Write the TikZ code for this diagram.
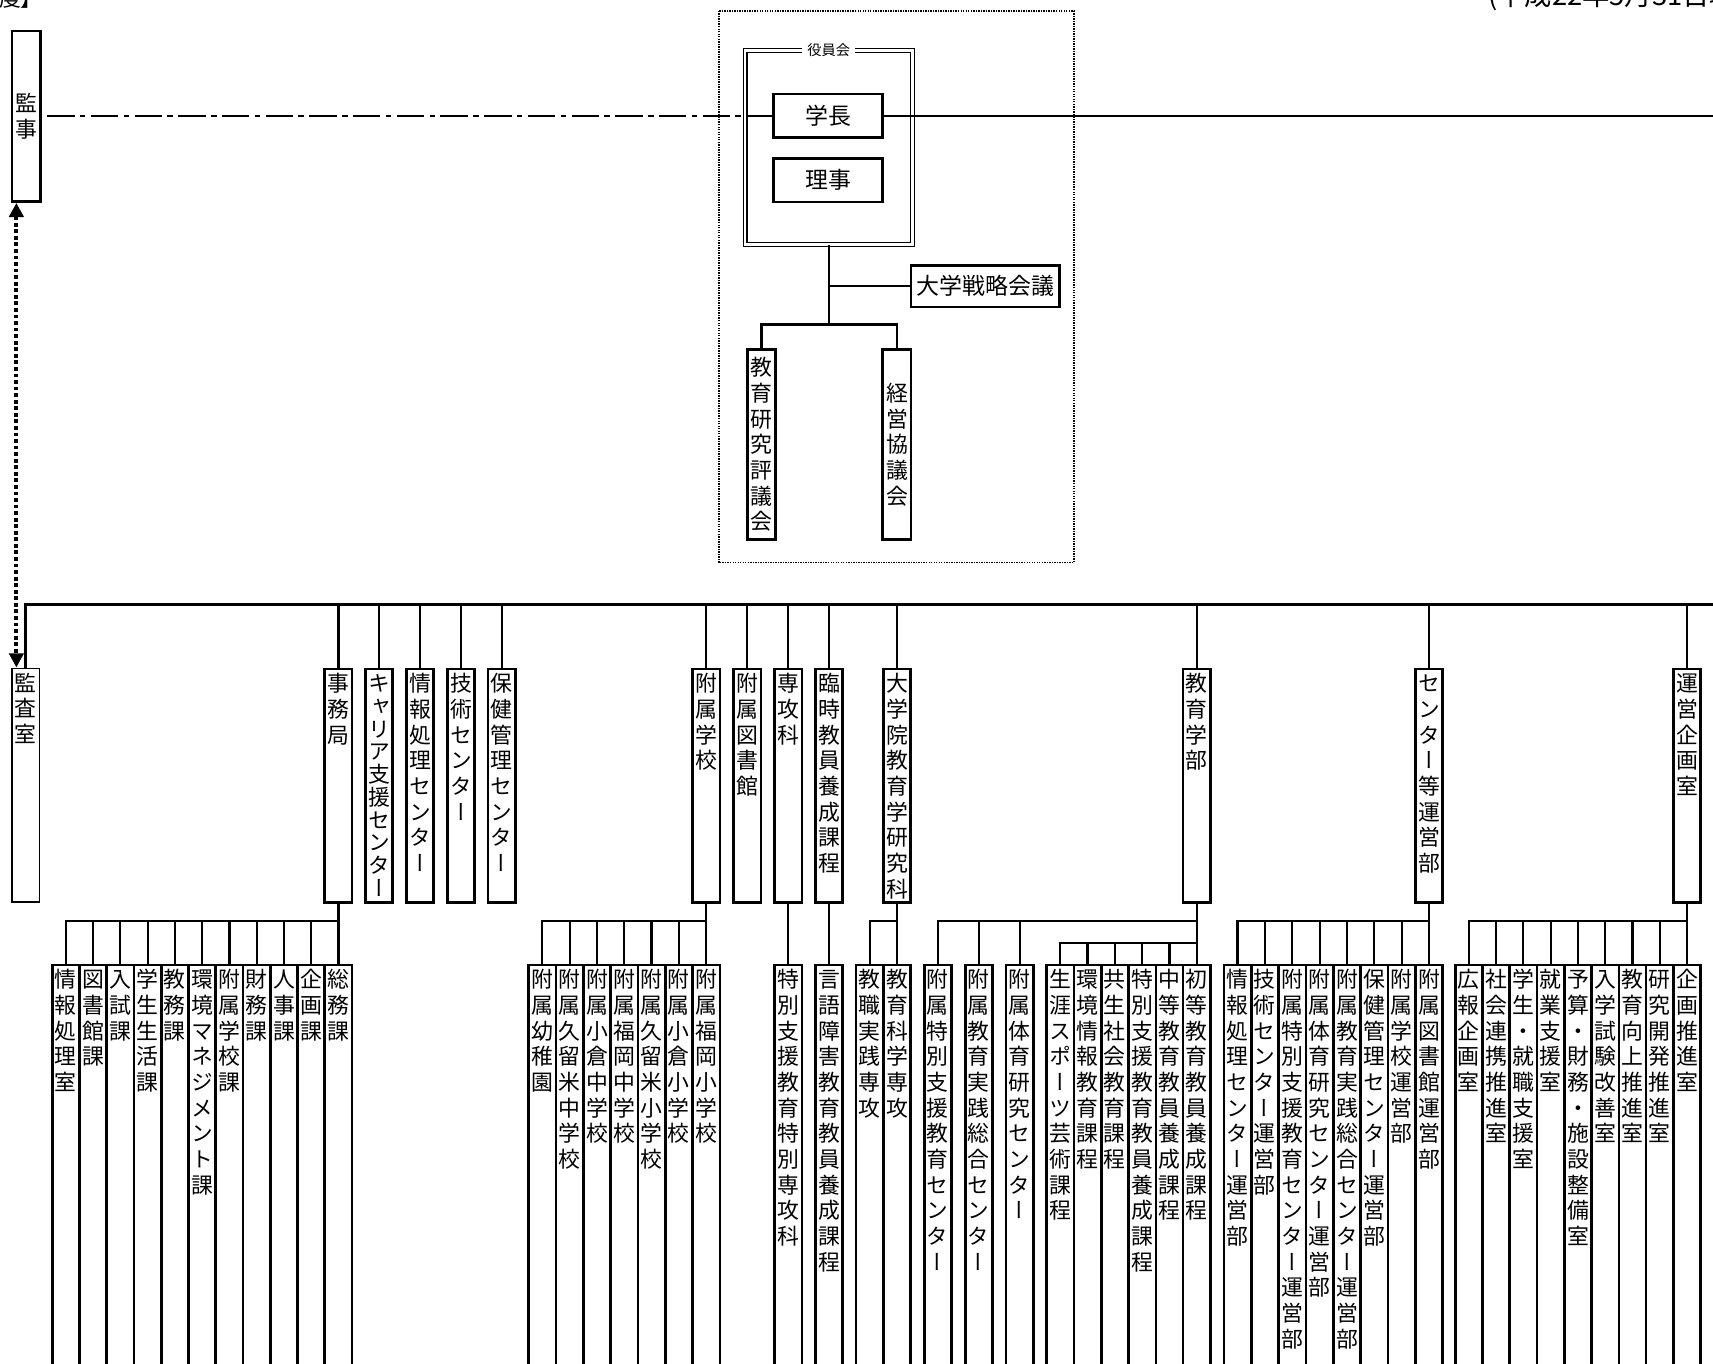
\documentclass[tikz,border=0pt]{standalone}
\usepackage{fontspec}
\newfontfamily\jp{Noto Sans CJK JP}
\newfontfamily\jptate[RawFeature=+vert]{Noto Sans CJK JP}
\usetikzlibrary{arrows.meta}

% one character per line, for the upright columns
\ExplSyntaxOn
\NewDocumentCommand \tate { m }
  {
    \seq_clear:N \l_tmpa_seq
    \tl_map_inline:nn {#1} { \seq_put_right:Nn \l_tmpa_seq {##1} }
    \parbox[t]{1em}{\centering \seq_use:Nn \l_tmpa_seq {\\} }
  }
\ExplSyntaxOff

\newcommand\tatefont{\jptate\fontsize{20pt}{23.5pt}\selectfont}
\newcommand\yokofont{\jp\fontsize{21pt}{25pt}\selectfont}

\tikzset{
  conn/.style={line width=2pt},
  busline/.style={line width=2.6pt},
  unitbox/.style={draw, line width=2.4pt, inner sep=0pt, minimum width=25pt,
    anchor=north, font=\tatefont, text height=21pt, text depth=193pt},
  subbox/.style={unitbox, text depth=397pt},
  namebox/.style={draw, line width=2.4pt, inner sep=0pt, font=\yokofont},
  tatebox/.style={draw, line width=2.4pt, inner sep=0pt, minimum width=26pt, font=\tatefont},
  kansaline/.style={line width=2pt, dash pattern=on 25pt off 5pt on 5pt off 5pt},
  dotarrow/.style={line width=3.5pt, dash pattern=on 3.5pt off 2.5pt,
    {Triangle[width=13pt,length=13pt]}-{Triangle[width=13pt,length=13pt]}}
}

\begin{document}
\begin{tikzpicture}[x=1pt,y=-1pt]
\useasboundingbox (0,0) rectangle (1568,1248.5);

% header (cut off at the top)
\node[anchor=base west, inner sep=0pt, font=\jp\fontsize{20pt}{24pt}\selectfont] (nendo) at (-1,6) {度】};
\node[anchor=base west, inner sep=0pt, font=\jp\fontsize{25pt}{30pt}\selectfont] (date) at (1362,5) {(平成22年5月31日現在)};

% top: auditors, board
\node[tatebox, minimum height=156pt] (kanji) at (24,106.5) {\tate{監事}};

\draw[line width=1.3pt, densely dotted] (658,10) rectangle (983,515);
\node[draw, double, double distance=2.4pt, line width=1.1pt, inner sep=0pt,
  minimum width=153pt, minimum height=178pt] (yakuin) at (758.5,135) {};
\node[fill=white, inner xsep=5pt, inner ysep=2pt, font=\jp\fontsize{13pt}{15pt}\selectfont] (yakuinlabel) at (yakuin.north) {役員会};

\node[namebox, minimum width=100pt, minimum height=40pt] (gakucho) at (758,106) {学長};
\node[namebox, minimum width=100pt, minimum height=40pt] (riji) at (758,165) {理事};
\node[namebox, minimum width=136pt, minimum height=38pt] (senryaku) at (902,262) {大学戦略会議};
\node[tatebox, minimum height=174pt] (hyogi) at (697,407) {\tate{教育研究評議会}};
\node[tatebox, minimum height=174pt] (keiei) at (821,407) {\tate{経営協議会}};

\coordinate (kbus) at (758.5,297);
\coordinate (topend) at (1580,106);
\coordinate (busend) at (1580,553);
\coordinate (lowbus) at (0,843);
\coordinate (lowbus2) at (0,863.5);

\draw[conn] (yakuin.south) -- (kbus);
\draw[conn] (yakuin.south |- senryaku.west) -- (senryaku.west);
\draw[conn] (hyogi.north) |- (kbus) -| (keiei.north);
\draw[conn] (gakucho.east) -- (topend);
\draw[kansaline] ([xshift=5pt]kanji.east |- gakucho.west) -- (gakucho.west);

% 2nd level
\node[unitbox, line width=1.2pt] (kansa) at (23.5,611) {\tate{監査室}};
\node[unitbox] (jimu) at (309.8,611) {\tate{事務局}};
\node[unitbox, font=\jptate\fontsize{20pt}{20.8pt}\selectfont] (career) at (347,611) {\tate{キャリア支援センター}};
\node[unitbox] (joho) at (384.5,611) {\tate{情報処理センター}};
\node[unitbox] (gijutsu) at (422,611) {\tate{技術センター}};
\node[unitbox] (hoken) at (459.3,611) {\tate{保健管理センター}};
\node[unitbox] (fuzoku) at (646.4,611) {\tate{附属学校}};
\node[unitbox] (tosho) at (684,611) {\tate{附属図書館}};
\node[unitbox] (senkou) at (721.5,611) {\tate{専攻科}};
\node[unitbox] (rinji) at (758.8,611) {\tate{臨時教員養成課程}};
\node[unitbox] (gakuin) at (821,611) {\tate{大学院教育学研究科}};
\node[unitbox] (gakubu) at (1095.5,611) {\tate{教育学部}};
\node[unitbox] (unei) at (1308,611) {\tate{センター等運営部}};
\node[unitbox] (kikaku) at (1544.3,611) {\tate{運営企画室}};

\draw[dotarrow] ([xshift=-9pt]kanji.south) -- ([xshift=-8.5pt]kansa.north);
\draw[busline] (kansa.north) -- (kansa.north |- busend) -- (busend);
\foreach \n in {jimu,career,joho,gijutsu,hoken,fuzoku,tosho,senkou,rinji,gakuin,gakubu,unei,kikaku}
  \draw[conn] (\n.north) -- (\n.north |- busend);

% 3rd level: jimukyoku
\node[subbox] (ka1) at (60.3,882) {\tate{情報処理室}};
\node[subbox] (ka2) at (85.25,882) {\tate{図書館課}};
\node[subbox] (ka3) at (110.2,882) {\tate{入試課}};
\node[subbox] (ka4) at (135.15,882) {\tate{学生生活課}};
\node[subbox] (ka5) at (160.1,882) {\tate{教務課}};
\node[subbox] (ka6) at (185.05,882) {\tate{環境マネジメント課}};
\node[subbox] (ka7) at (210,882) {\tate{附属学校課}};
\node[subbox] (ka8) at (234.95,882) {\tate{財務課}};
\node[subbox] (ka9) at (259.9,882) {\tate{人事課}};
\node[subbox] (ka10) at (284.85,882) {\tate{企画課}};
\node[subbox] (ka11) at (309.8,882) {\tate{総務課}};

\draw[conn] (jimu.south) -- (ka11.north);
\draw[conn] (ka1.north) |- (jimu.south |- lowbus);
\foreach \i in {2,...,10}
  \draw[conn] (ka\i.north) -- (ka\i.north |- lowbus);

% 3rd level: fuzoku gakko
\node[subbox] (fs1) at (496.4,882) {\tate{附属幼稚園}};
\node[subbox] (fs2) at (521.4,882) {\tate{附属久留米中学校}};
\node[subbox] (fs3) at (546.4,882) {\tate{附属小倉中学校}};
\node[subbox] (fs4) at (571.4,882) {\tate{附属福岡中学校}};
\node[subbox] (fs5) at (596.4,882) {\tate{附属久留米小学校}};
\node[subbox] (fs6) at (621.4,882) {\tate{附属小倉小学校}};
\node[subbox] (fs7) at (646.4,882) {\tate{附属福岡小学校}};

\draw[conn] (fuzoku.south) -- (fs7.north);
\draw[conn] (fs1.north) |- (fuzoku.south |- lowbus);
\foreach \i in {2,...,6}
  \draw[conn] (fs\i.north) -- (fs\i.north |- lowbus);

% 3rd level: senkouka, rinji, daigakuin
\node[subbox] (tokusen) at (721.5,882) {\tate{特別支援教育特別専攻科}};
\node[subbox] (gengo) at (758.8,882) {\tate{言語障害教育教員養成課程}};
\node[subbox] (sen1) at (796,882) {\tate{教職実践専攻}};
\node[subbox] (sen2) at (821,882) {\tate{教育科学専攻}};

\draw[conn] (senkou.south) -- (tokusen.north);
\draw[conn] (rinji.south) -- (gengo.north);
\draw[conn] (gakuin.south) -- (sen2.north);
\draw[conn] (sen1.north) |- (gakuin.south |- lowbus);

% 3rd level: kyoiku gakubu
\node[subbox] (fc1) at (858.5,882) {\tate{附属特別支援教育センター}};
\node[subbox] (fc2) at (896,882) {\tate{附属教育実践総合センター}};
\node[subbox] (fc3) at (933.3,882) {\tate{附属体育研究センター}};
\node[subbox] (kt1) at (970.5,882) {\tate{生涯スポーツ芸術課程}};
\node[subbox] (kt2) at (995.5,882) {\tate{環境情報教育課程}};
\node[subbox] (kt3) at (1020.5,882) {\tate{共生社会教育課程}};
\node[subbox] (kt4) at (1045.5,882) {\tate{特別支援教育教員養成課程}};
\node[subbox] (kt5) at (1070.5,882) {\tate{中等教育教員養成課程}};
\node[subbox] (kt6) at (1095.5,882) {\tate{初等教育教員養成課程}};

\draw[conn] (gakubu.south) -- (kt6.north);
\draw[conn] (fc1.north) |- (gakubu.south |- lowbus);
\foreach \i in {2,3}
  \draw[conn] (fc\i.north) -- (fc\i.north |- lowbus);
\draw[conn] (kt1.north) |- (gakubu.south |- lowbus2);
\foreach \i in {2,...,5}
  \draw[conn] (kt\i.north) -- (kt\i.north |- lowbus2);

% 3rd level: center unei
\node[subbox] (ub1) at (1132.8,882) {\tate{情報処理センター運営部}};
\node[subbox] (ub2) at (1157.83,882) {\tate{技術センター運営部}};
\node[subbox] (ub3) at (1182.86,882) {\tate{附属特別支援教育センター運営部}};
\node[subbox] (ub4) at (1207.89,882) {\tate{附属体育研究センター運営部}};
\node[subbox] (ub5) at (1232.92,882) {\tate{附属教育実践総合センター運営部}};
\node[subbox] (ub6) at (1257.95,882) {\tate{保健管理センター運営部}};
\node[subbox] (ub7) at (1282.98,882) {\tate{附属学校運営部}};
\node[subbox] (ub8) at (1308,882) {\tate{附属図書館運営部}};

\draw[conn] (unei.south) -- (ub8.north);
\draw[conn] (ub1.north) |- (unei.south |- lowbus);
\foreach \i in {2,...,7}
  \draw[conn] (ub\i.north) -- (ub\i.north |- lowbus);

% 3rd level: unei kikaku
\node[subbox] (sh1) at (1344.5,882) {\tate{広報企画室}};
\node[subbox] (sh2) at (1369.5,882) {\tate{社会連携推進室}};
\node[subbox] (sh3) at (1394.4,882) {\tate{学生・就職支援室}};
\node[subbox] (sh4) at (1419.4,882) {\tate{就業支援室}};
\node[subbox] (sh5) at (1444.4,882) {\tate{予算・財務・施設整備室}};
\node[subbox] (sh6) at (1469.4,882) {\tate{入学試験改善室}};
\node[subbox] (sh7) at (1494.3,882) {\tate{教育向上推進室}};
\node[subbox] (sh8) at (1519.3,882) {\tate{研究開発推進室}};
\node[subbox] (sh9) at (1544.3,882) {\tate{企画推進室}};

\draw[conn] (kikaku.south) -- (sh9.north);
\draw[conn] (sh1.north) |- (kikaku.south |- lowbus);
\foreach \i in {2,...,8}
  \draw[conn] (sh\i.north) -- (sh\i.north |- lowbus);

\end{tikzpicture}
\end{document}
